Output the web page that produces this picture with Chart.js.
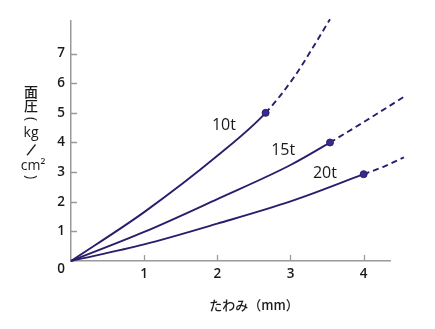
<!DOCTYPE html>
<html><head><meta charset="utf-8">
<script src="https://cdn.jsdelivr.net/npm/chart.js@4/dist/chart.umd.min.js"></script>
<style>html,body{margin:0;padding:0;background:#fff}#wrap{width:435px;height:329px}</style>
</head><body><div id="wrap"><canvas id="c" width="435" height="329"></canvas></div>
<script>
// Tick labels
const xTicks = [1, 2, 3, 4];
const yTicks = [1, 2, 3, 4, 5, 6, 7];

// Load curves: deflection (mm) vs. surface pressure (kg/cm²)
const seriesNames = ['10t', '15t', '20t'];
const defl10  = [0, 1, 2, 2.66, 3.05, 3.31, 3.54];
const press10 = [0, 1.65, 3.55, 5.0, 6.21, 7.22, 8.16];
const defl15  = [0, 1, 2, 3, 3.54, 4.04, 4.55];
const press15 = [0, 0.98, 2.09, 3.24, 4.0, 4.75, 5.54];
const defl20  = [0, 1, 2, 3, 4, 4.27, 4.55];
const press20 = [0, 0.56, 1.26, 2.01, 2.93, 3.18, 3.5];
// Rated point of each curve; the curve continues dashed past it
const ratedDefl = [2.66, 3.54, 4.0];

const ink = '#2b1d6b';
const axisGray = '#9a9a9a';
const textInk = '#1a1a1a';
const latin = '"Open Sans", "Noto Sans", sans-serif';
const cjk = '"Noto Sans CJK JP", "Noto Sans", sans-serif';

const curves = [[defl10, press10], [defl15, press15], [defl20, press20]];
const datasets = curves.map(([xs, ys], i) => ({
  label: seriesNames[i],
  data: xs.map((x, j) => ({ x, y: ys[j] })),
  borderColor: ink,
  borderWidth: 1.9,
  fill: false,
  clip: false,
  cubicInterpolationMode: 'monotone',
  pointRadius: ctx => (ctx.raw && ctx.raw.x === ratedDefl[i]) ? 3.5 : 0,
  pointHoverRadius: 0,
  pointBackgroundColor: '#3a2a8c',
  pointBorderColor: ink,
  pointBorderWidth: 1,
  segment: {
    borderDash: ctx => ctx.p0.parsed.x >= ratedDefl[i] ? [6, 4] : undefined
  }
}));

// Curve name labels, positioned in data units
const labelAt = [[2.09, 4.58], [2.9, 3.74], [3.47, 2.97]];

// Draws a glyph rotated about its centre (vertical-text brackets and slash)
function turned(ctx, ch, px, py, angle) {
  ctx.save();
  ctx.translate(px, py);
  ctx.rotate(angle);
  ctx.fillText(ch, 0, 0);
  ctx.restore();
}

const overlay = {
  id: 'overlay',
  beforeDatasetsDraw(chart) {
    const { ctx, scales: { x, y } } = chart;
    ctx.save();
    ctx.strokeStyle = axisGray;
    ctx.lineWidth = 1.3;
    ctx.beginPath();
    xTicks.forEach(v => {
      const px = Math.round(x.getPixelForValue(v)) + 0.5;
      ctx.moveTo(px, y.bottom);
      ctx.lineTo(px, y.bottom - 6);
    });
    yTicks.forEach(v => {
      const py = Math.round(y.getPixelForValue(v)) + 0.5;
      ctx.moveTo(x.left, py);
      ctx.lineTo(x.left + 6, py);
    });
    ctx.stroke();
    ctx.restore();
  },
  afterDatasetsDraw(chart) {
    const { ctx, scales: { x, y } } = chart;
    ctx.save();
    ctx.fillStyle = textInk;
    ctx.textAlign = 'center';
    ctx.textBaseline = 'middle';

    // shared origin label
    ctx.font = '600 13.5px ' + latin;
    ctx.fillText('0', x.getPixelForValue(0) - 10, y.getPixelForValue(0) + 8);

    // curve names
    ctx.font = '16px ' + latin;
    labelAt.forEach(([lx, ly], i) => {
      ctx.fillText(seriesNames[i], x.getPixelForValue(lx), y.getPixelForValue(ly));
    });

    // x axis title
    ctx.font = '500 13px ' + cjk;
    ctx.fillText('たわみ（mm）', x.getPixelForValue(2.5), 305);

    // y axis title, set vertically
    const cx = 31;
    ctx.font = '500 14px ' + cjk;
    ctx.fillText('面', cx, 92);
    ctx.fillText('圧', cx, 106);
    ctx.font = '14px ' + latin;
    turned(ctx, '(', cx, 119, Math.PI / 2);
    ctx.fillText('kg', cx, 133);
    ctx.font = '18px ' + latin;
    turned(ctx, '/', cx, 151, 0.3);
    ctx.font = '14px ' + latin;
    ctx.fillText('cm²', cx + 2, 166);
    turned(ctx, ')', cx, 177, Math.PI / 2);
    ctx.restore();
  }
};

new Chart(document.getElementById('c'), {
  type: 'line',
  data: { datasets },
  options: {
    responsive: false,
    animation: false,
    layout: { padding: { top: 21, right: 45, left: 0, bottom: 0 } },
    plugins: { legend: { display: false }, tooltip: { enabled: false } },
    scales: {
      x: {
        type: 'linear',
        min: 0, max: 4.36,
        afterBuildTicks: s => { s.ticks = xTicks.map(v => ({ value: v })); },
        afterFit: s => { s.height = 68; },
        grid: { display: false, drawTicks: false },
        border: { color: axisGray, width: 1.5 },
        ticks: { color: textInk, padding: 5, font: { family: latin, size: 13.5, weight: '600' } }
      },
      y: {
        type: 'linear',
        min: 0, max: 8.1,
        afterBuildTicks: s => { s.ticks = yTicks.map(v => ({ value: v })); },
        afterFit: s => { s.width = 71; },
        grid: { display: false, drawTicks: false },
        border: { color: axisGray, width: 1.5 },
        ticks: { color: textInk, padding: 6, font: { family: latin, size: 13.5, weight: '600' } }
      }
    }
  },
  plugins: [overlay]
});
</script>
</body></html>
